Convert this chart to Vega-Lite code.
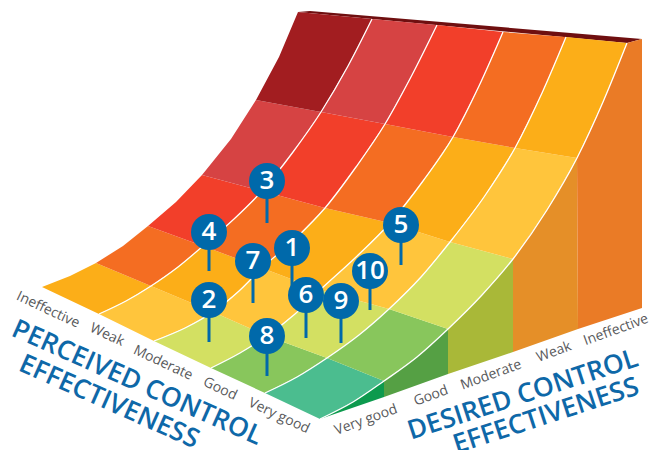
{
"$schema":"https://vega.github.io/schema/vega-lite/v6.json",
"width":662,"height":450,"autosize":"none","padding":0,
"background":"white","view":{"stroke":null},
"datasets":{
"shapes":[
{"id":"top","level":"rim","i":[1,2,3,4],"xs":[298,310,642,627],"ys":[12,11,39,43]},
{"id":"w1","level":"wall1","i":[1,2,3,4],"xs":[320,353,384,384],"ys":[419,402,381,397]},
{"id":"w2","level":"wall2","i":[1,2,3,4,5],"xs":[384,384,417,448,448],"ys":[397,381,357,329,374]},
{"id":"w3","level":"wall3","i":[1,2,3,4,5],"xs":[448,448,482,513,513],"ys":[374,329,295,259,352]},
{"id":"w4","level":"wall4","i":[1,2,3,4,5],"xs":[513,513,547,577,578],"ys":[352,259,210,158,329]},
{"id":"w5","level":"wall5","i":[1,2,3,4,5,6],"xs":[578,577,603,627,642,642],"ys":[329,158,102,43,39,308]},
{"id":"r1c1","level":"amber","i":[1,2,3,4,5,6],"xs":[42,70,96,151,126,99],"ys":[287,276,263,286,301,314]},
{"id":"r1c2","level":"yellow","i":[1,2,3,4,5,6],"xs":[99,126,151,213,185,154],"ys":[314,301,286,312,328,341]},
{"id":"r1c3","level":"lightgreen","i":[1,2,3,4,5,6],"xs":[154,185,213,267,240,211],"ys":[341,328,312,336,353,368]},
{"id":"r1c4","level":"green","i":[1,2,3,4,5,6],"xs":[211,240,267,327,297,265],"ys":[368,353,336,358,377,393]},
{"id":"r1c5","level":"teal","i":[1,2,3,4,5,6],"xs":[265,297,327,384,353,320],"ys":[393,377,358,381,402,419]},
{"id":"r2c1","level":"orange","i":[1,2,3,4,5,6],"xs":[96,123,148,203,178,151],"ys":[263,246,226,246,267,286]},
{"id":"r2c2","level":"amber","i":[1,2,3,4,5,6],"xs":[151,178,203,262,239,213],"ys":[286,267,246,268,291,312]},
{"id":"r2c3","level":"yellow","i":[1,2,3,4,5,6],"xs":[213,239,262,320,295,267],"ys":[312,291,268,290,314,336]},
{"id":"r2c4","level":"lightgreen","i":[1,2,3,4,5,6],"xs":[267,295,320,389,359,327],"ys":[336,314,290,309,335,358]},
{"id":"r2c5","level":"green","i":[1,2,3,4,5,6],"xs":[327,359,389,448,417,384],"ys":[358,335,309,329,357,381]},
{"id":"r3c1","level":"red","i":[1,2,3,4,5,6],"xs":[148,176,202,262,234,203],"ys":[226,202,175,191,219,246]},
{"id":"r3c2","level":"orange","i":[1,2,3,4,5,6],"xs":[203,234,262,325,295,262],"ys":[246,219,191,208,239,268]},
{"id":"r3c3","level":"amber","i":[1,2,3,4,5,6],"xs":[262,295,325,390,355,320],"ys":[268,239,208,223,258,290]},
{"id":"r3c4","level":"yellow","i":[1,2,3,4,5,6],"xs":[320,355,390,450,421,389],"ys":[290,258,223,242,277,309]},
{"id":"r3c5","level":"lightgreen","i":[1,2,3,4,5,6],"xs":[389,421,450,513,482,448],"ys":[309,277,242,259,295,329]},
{"id":"r4c1","level":"crimson","i":[1,2,3,4,5,6],"xs":[202,231,256,321,293,262],"ys":[175,139,100,112,152,191]},
{"id":"r4c2","level":"red","i":[1,2,3,4,5,6],"xs":[262,293,321,385,356,325],"ys":[191,152,112,124,167,208]},
{"id":"r4c3","level":"orange","i":[1,2,3,4,5,6],"xs":[325,356,385,453,423,390],"ys":[208,167,124,137,181,223]},
{"id":"r4c4","level":"amber","i":[1,2,3,4,5,6],"xs":[390,423,453,515,484,450],"ys":[223,181,137,148,197,242]},
{"id":"r4c5","level":"yellow","i":[1,2,3,4,5,6],"xs":[450,484,515,577,547,513],"ys":[242,197,148,158,210,259]},
{"id":"r5c1","level":"darkred","i":[1,2,3,4,5,6],"xs":[256,279,298,372,348,321],"ys":[100,57,12,19,66,112]},
{"id":"r5c2","level":"crimson","i":[1,2,3,4,5,6],"xs":[321,348,372,437,412,385],"ys":[112,66,19,25,75,124]},
{"id":"r5c3","level":"red","i":[1,2,3,4,5,6],"xs":[385,412,437,503,479,453],"ys":[124,75,25,32,86,137]},
{"id":"r5c4","level":"orange","i":[1,2,3,4,5,6],"xs":[453,479,503,566,542,515],"ys":[137,86,32,37,93,148]},
{"id":"r5c5","level":"amber","i":[1,2,3,4,5,6],"xs":[515,542,566,627,603,577],"ys":[148,93,37,43,102,158]}
],
"dividers":[
{"id":"B","i":[1,2,3,4,5,6,7,8,9,10,11],"xs":[99,126,151,178,203,234,262,293,321,348,372],"ys":[314,301,286,267,246,219,191,152,112,66,19]},
{"id":"C","i":[1,2,3,4,5,6,7,8,9,10,11],"xs":[154,185,213,239,262,295,325,356,385,412,437],"ys":[341,328,312,291,268,239,208,167,124,75,25]},
{"id":"D","i":[1,2,3,4,5,6,7,8,9,10,11],"xs":[211,240,267,295,320,355,390,423,453,479,503],"ys":[368,353,336,314,290,258,223,181,137,86,32]},
{"id":"E","i":[1,2,3,4,5,6,7,8,9,10,11],"xs":[265,297,327,359,389,421,450,484,515,542,566],"ys":[393,377,358,335,309,277,242,197,148,93,37]},
{"id":"F","i":[1,2,3,4,5,6,7,8,9,10,11],"xs":[320,353,384,417,448,482,513,547,577,603,627],"ys":[419,402,381,357,329,295,259,210,158,102,43]}
],
"pins":[
{"n":"1","h":292,"v":248,"v2":287},
{"n":"2","h":209,"v":300,"v2":342},
{"n":"3","h":267,"v":181,"v2":223},
{"n":"4","h":209,"v":232,"v2":271},
{"n":"5","h":401,"v":225,"v2":265},
{"n":"6","h":306,"v":295,"v2":338},
{"n":"7","h":253,"v":261,"v2":303},
{"n":"8","h":267,"v":336,"v2":376},
{"n":"9","h":341,"v":301,"v2":343},
{"n":"10","h":370,"v":271,"v2":310}
],
"ticks":[
{"t":"Ineffective","h":48,"v":310,"a":25},
{"t":"Weak","h":107,"v":335,"a":25},
{"t":"Moderate","h":163,"v":363,"a":25},
{"t":"Good","h":220,"v":389,"a":25},
{"t":"Very good","h":279,"v":416,"a":25},
{"t":"Very good","h":366,"v":420,"a":-20},
{"t":"Good","h":431,"v":396,"a":-20},
{"t":"Moderate","h":491,"v":375,"a":-20},
{"t":"Weak","h":554,"v":352,"a":-20},
{"t":"Ineffective","h":616,"v":330,"a":-20}
],
"titles":[
{"t":"PERCEIVED CONTROL","h":137,"v":383,"a":24},
{"t":"EFFECTIVENESS","h":109,"v":402,"a":24},
{"t":"DESIRED CONTROL","h":523,"v":395,"a":-18},
{"t":"EFFECTIVENESS","h":546,"v":416,"a":-18}
]
},
"layer":[
{"data":{"name":"shapes"},
 "transform":[{"flatten":["xs","ys","i"]}],
 "mark":{"type":"line","filled":true,"interpolate":"linear-closed","strokeWidth":0},
 "encoding":{
  "x":{"field":"xs","type":"quantitative","scale":{"domain":[0,662],"nice":false,"zero":false},"axis":null},
  "y":{"field":"ys","type":"quantitative","scale":{"domain":[450,0],"nice":false,"zero":false},"axis":null},
  "detail":{"field":"id"},
  "order":{"field":"i","type":"quantitative"},
  "color":{"field":"level","type":"nominal","legend":null,"scale":{
   "domain":["teal","green","lightgreen","yellow","amber","orange","red","crimson","darkred","rim","wall1","wall2","wall3","wall4","wall5"],
   "range":["#4bbd8f","#88c65c","#d3e062","#ffc53c","#fcae18","#f46d22","#f23f2a","#d64343","#a21d20","#6f0f10","#0d9a4e","#55a044","#a9b838","#e58f28","#ea7b26"]}}
 }},
{"data":{"name":"dividers"},
 "transform":[{"flatten":["xs","ys","i"]}],
 "mark":{"type":"line","color":"#ffffff","strokeWidth":1.3,"interpolate":"monotone"},
 "encoding":{
  "x":{"field":"xs","type":"quantitative","axis":null},
  "y":{"field":"ys","type":"quantitative","axis":null},
  "detail":{"field":"id"},
  "order":{"field":"i","type":"quantitative"}
 }},
{"data":{"name":"pins"},
 "mark":{"type":"rule","color":"#0069aa","strokeWidth":3},
 "encoding":{
  "x":{"field":"h","type":"quantitative","axis":null},
  "y":{"field":"v","type":"quantitative","axis":null},
  "y2":{"field":"v2"}
 }},
{"data":{"name":"pins"},
 "mark":{"type":"point","shape":"circle","filled":true,"opacity":1,"color":"#0069aa","size":1296},
 "encoding":{
  "x":{"field":"h","type":"quantitative","axis":null},
  "y":{"field":"v","type":"quantitative","axis":null}
 }},
{"data":{"name":"pins"},
 "mark":{"type":"text","color":"#ffffff","font":"Open Sans","fontWeight":600,"fontSize":26,"align":"center","baseline":"middle"},
 "encoding":{
  "x":{"field":"h","type":"quantitative","axis":null},
  "y":{"field":"v","type":"quantitative","axis":null},
  "text":{"field":"n"}
 }},
{"data":{"name":"ticks"},
 "mark":{"type":"text","color":"#58595b","font":"Open Sans","fontSize":14,"align":"center","baseline":"middle"},
 "encoding":{
  "x":{"field":"h","type":"quantitative","axis":null},
  "y":{"field":"v","type":"quantitative","axis":null},
  "angle":{"field":"a","type":"quantitative","scale":null},
  "text":{"field":"t"}
 }},
{"data":{"name":"titles"},
 "mark":{"type":"text","color":"#0e68a8","font":"Open Sans","fontWeight":600,"fontSize":26.5,"align":"center","baseline":"middle"},
 "encoding":{
  "x":{"field":"h","type":"quantitative","axis":null},
  "y":{"field":"v","type":"quantitative","axis":null},
  "angle":{"field":"a","type":"quantitative","scale":null},
  "text":{"field":"t"}
 }}
]
}
